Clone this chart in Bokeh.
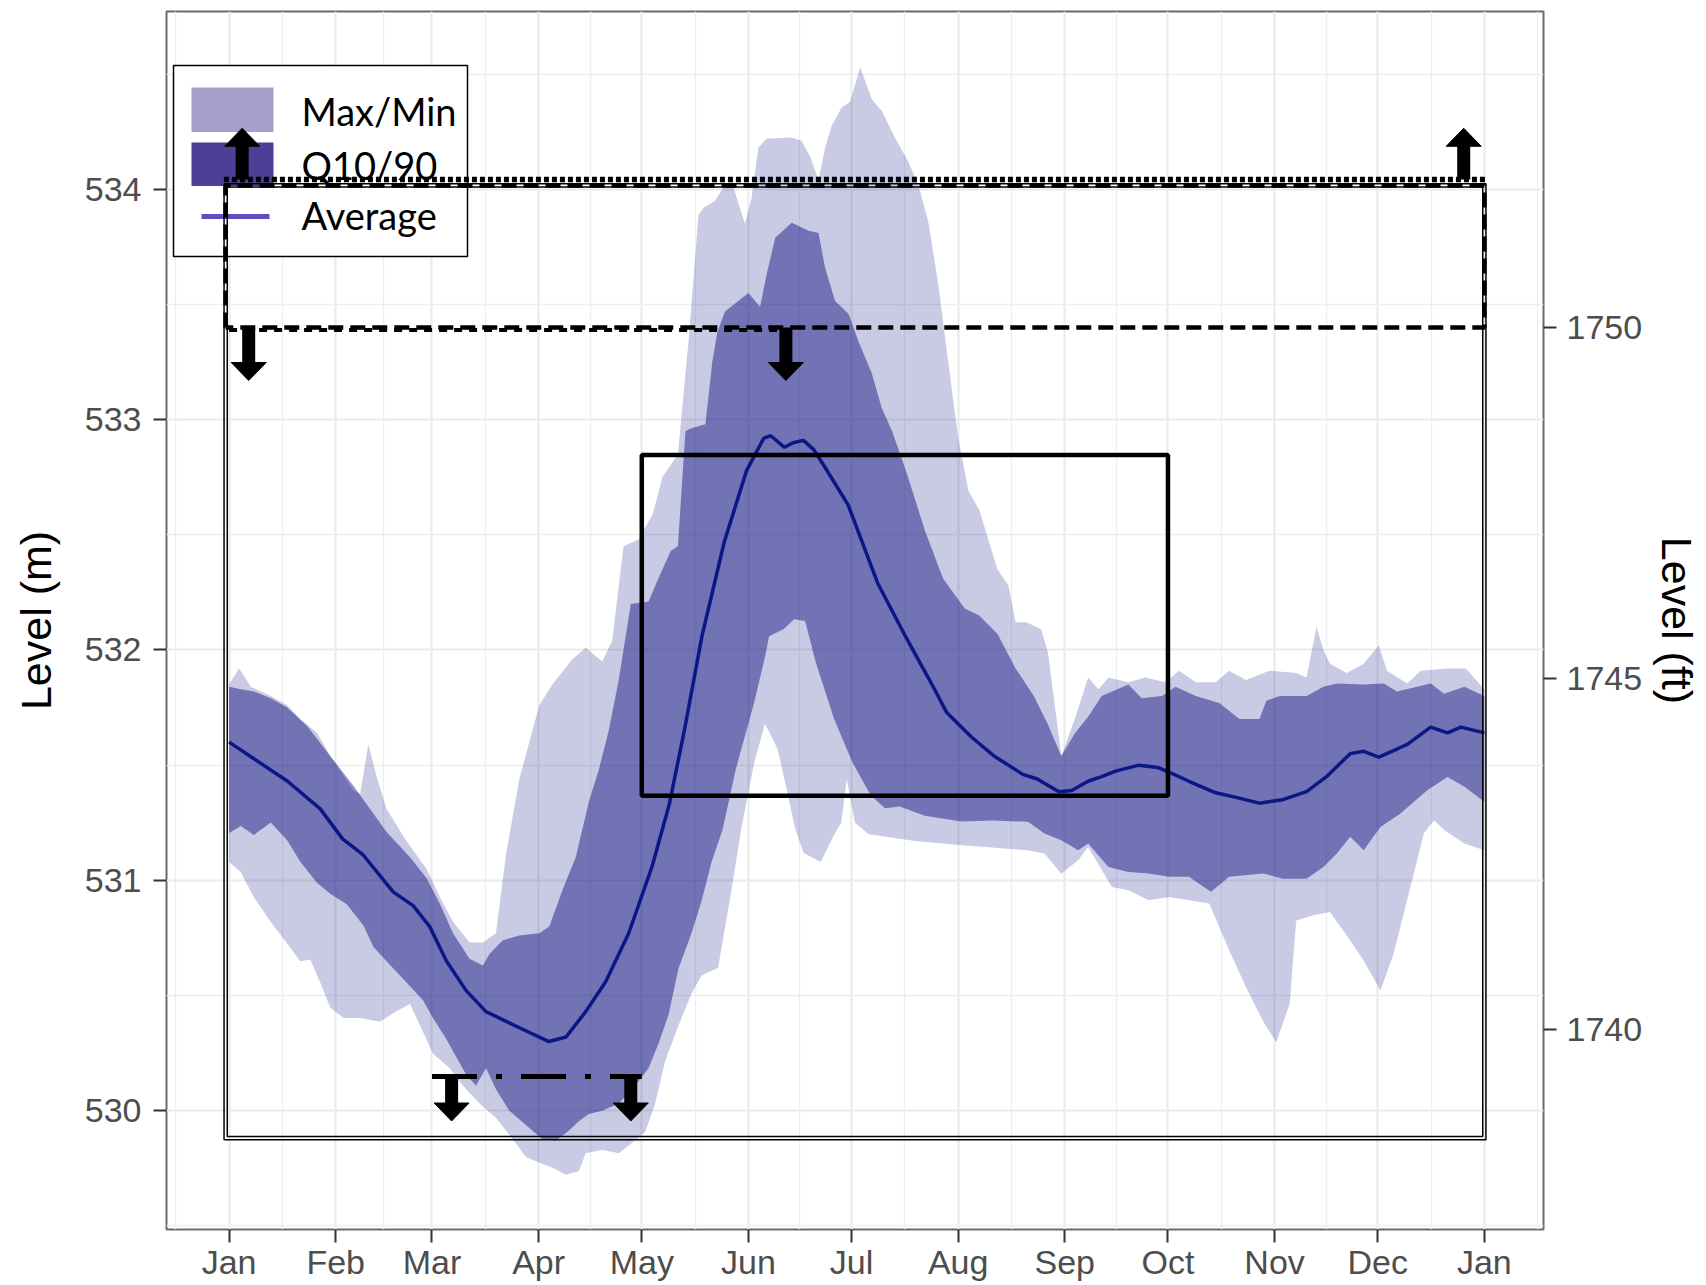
import numpy as np
from bokeh.plotting import figure
from bokeh.models import Range1d, LinearAxis, FixedTicker
from bokeh.core.properties import value
from bokeh.embed import file_html
from bokeh.resources import INLINE

# ---------------- axis categories ----------------
MONTH_DAYS = [0, 31, 59, 90, 120, 151, 181, 212, 243, 273, 304, 334, 365]
MONTH_LABELS = ["Jan", "Feb", "Mar", "Apr", "May", "Jun", "Jul", "Aug", "Sep", "Oct", "Nov", "Dec", "Jan"]
LEVEL_TICKS_M = [530, 531, 532, 533, 534]
LEVEL_MINOR_M = [529.5, 530.5, 531.5, 532.5, 533.5, 534.5]
LEVEL_TICKS_FT = [1740, 1745, 1750]
M_PER_FT = 0.3048
LEGEND_LABELS = ["Max/Min", "Q10/90", "Average"]

# ---------------- series (day of year, level in m) ----------------
avg_day = [0, 7, 17, 26.5, 33, 39, 47.7, 53.5, 58.3, 63.2, 69, 74.7, 84.4, 93, 98, 103.7, 109.5, 116.2,
           123, 128, 132.5, 137.5, 144, 150.5, 155.5, 157.5, 161.5, 164, 167, 170, 173, 180, 188.6, 197,
           204.4, 208.6, 216, 222.4, 230.8, 235, 241.3, 245, 249.8, 253.7, 258, 264.6, 270, 273.3, 279.1,
           286.9, 292.8, 299.6, 306.4, 313.3, 319.1, 326, 329.9, 334.3, 339.6, 342.6, 349.4, 354.3, 358.2, 365]
avg_level = [531.60, 531.53, 531.43, 531.31, 531.18, 531.11, 530.95, 530.89, 530.80, 530.65, 530.52, 530.43,
             530.36, 530.30, 530.32, 530.43, 530.56, 530.77, 531.06, 531.33, 531.66, 532.06, 532.47, 532.78,
             532.92, 532.93, 532.88, 532.90, 532.91, 532.87, 532.80, 532.63, 532.29, 532.05, 531.85, 531.73,
             531.62, 531.54, 531.46, 531.44, 531.385, 531.39, 531.43, 531.45, 531.475, 531.50, 531.49, 531.47,
             531.43, 531.38, 531.36, 531.335, 531.35, 531.385, 531.45, 531.55, 531.56, 531.535, 531.57,
             531.59, 531.665, 531.64, 531.665, 531.64]

q90_day = [0, 3.4, 7.2, 12.1, 16.9, 22.7, 29.4, 36.2, 40, 45.8, 52.6, 57.4, 61.2, 65.1, 69.9, 73.8, 75.7,
           79.6, 84.4, 90.2, 93.1, 97, 100.8, 104.6, 107.5, 110.4, 113.3, 116.8, 122, 124.5, 128.4, 130.5,
           132.7, 134, 138.5, 140.5, 142, 144.2, 151, 154.4, 156.3, 158.8, 163.6, 168.5, 171.4, 173.3, 176.2,
           180.1, 183, 186.9, 189.8, 192.8, 197, 202.3, 207.6, 213.9, 218.1, 223.4, 228.7, 234, 238, 242,
           246, 249.8, 253.7, 261.5, 265.4, 271.3, 275.2, 281.1, 287.9, 293.8, 299.6, 301.6, 305.5, 313.3,
           318.2, 322.1, 329.9, 335.8, 339.6, 349.4, 353.3, 359.2, 365]
q90_level = [531.84, 531.83, 531.82, 531.79, 531.75, 531.67, 531.54, 531.41, 531.33, 531.21, 531.10, 531.01,
             530.90, 530.77, 530.66, 530.63, 530.68, 530.74, 530.76, 530.77, 530.80, 530.96, 531.10, 531.34,
             531.48, 531.65, 531.87, 532.20, 532.21, 532.30, 532.43, 532.45, 532.95, 532.96, 532.98, 533.25,
             533.38, 533.47, 533.55, 533.49, 533.63, 533.79, 533.855, 533.82, 533.81, 533.66, 533.515, 533.46,
             533.34, 533.20, 533.05, 532.95, 532.77, 532.52, 532.31, 532.18, 532.15, 532.07, 531.92, 531.80,
             531.68, 531.54, 531.64, 531.71, 531.80, 531.85, 531.79, 531.80, 531.84, 531.80, 531.77, 531.70,
             531.70, 531.78, 531.80, 531.80, 531.84, 531.855, 531.85, 531.855, 531.82, 531.855, 531.81,
             531.84, 531.80]

q10_day = [0, 3.4, 7.2, 12.1, 16.9, 20.7, 25.6, 29.4, 34.2, 39.1, 42, 45.8, 51.6, 56.4, 59.3, 63.2, 66.1,
           69, 71.8, 74.7, 77.6, 81.5, 86.3, 91.1, 95, 98.9, 101.7, 104.6, 108.5, 113.3, 118.1, 122, 124.9,
           127.8, 130.7, 134.5, 137.4, 140.3, 143.5, 147.4, 152.7, 155.9, 157, 161.2, 164.3, 167.5, 170.6,
           175.9, 181.2, 186.5, 190.7, 195, 202.3, 212.9, 222, 232.3, 237.1, 242, 246.9, 249.8, 255.7, 261.5,
           267.4, 273.3, 279.1, 285.5, 290.8, 300.6, 306.4, 313.3, 318.2, 322.1, 326, 329.9, 334.8, 340.6,
           348.4, 354.3, 359.2, 365]
q10_level = [531.205, 531.236, 531.197, 531.251, 531.174, 531.081, 530.988, 530.942, 530.896, 530.803,
             530.71, 530.649, 530.556, 530.479, 530.402, 530.31, 530.232, 530.155, 530.108, 530.185, 530.093,
             530.0, 529.938, 529.876, 529.869, 529.915, 529.954, 529.985, 530.0, 530.031, 530.108, 530.185,
             530.293, 530.417, 530.618, 530.772, 530.911, 531.081, 531.22, 531.486, 531.773, 531.975, 532.06,
             532.09, 532.133, 532.126, 531.946, 531.701, 531.514, 531.37, 531.313, 531.32, 531.28, 531.255,
             531.26, 531.254, 531.203, 531.174, 531.13, 531.16, 531.058, 531.036, 531.03, 531.015, 531.015,
             530.95, 531.015, 531.03, 531.007, 531.007, 531.058, 531.116, 531.189, 531.13, 531.232, 531.29,
             531.391, 531.449, 531.406, 531.341]

max_day = [0, 2.9, 6.3, 12.1, 16.9, 20.7, 25.6, 29.4, 36.2, 38.1, 40.5, 42.9, 45.8, 51.6, 57.4, 61.2, 65.1,
           69.9, 73.8, 77.6, 80.5, 84.4, 90.2, 94, 99.8, 103.7, 108.5, 111.4, 114.7, 119, 123.2, 126, 130.5,
           133.6, 136.5, 138, 141.3, 144.2, 146.6, 150, 151.9, 153.9, 156.3, 163.6, 166.5, 169, 171.4, 173.3,
           175.2, 178.1, 180.6, 183.5, 186.9, 189.8, 193.6, 197.5, 200.4, 203.3, 206.2, 209.1, 212, 215,
           218.1, 223.4, 226.6, 228.7, 231.9, 236.1, 238.1, 242, 245.9, 249.8, 252.8, 255.7, 261.5, 266.4,
           272.3, 276.2, 281.1, 286.9, 290.8, 295.7, 302.5, 310.3, 313.3, 316.2, 318.2, 320.1, 325, 329.9,
           334.3, 336.7, 342.6, 346.5, 354.3, 359.6, 365]
max_level = [531.85, 531.92, 531.84, 531.80, 531.76, 531.70, 531.64, 531.54, 531.39, 531.375, 531.59, 531.45,
             531.31, 531.17, 531.05, 530.93, 530.82, 530.73, 530.73, 530.77, 531.11, 531.44, 531.76, 531.85,
             531.96, 532.01, 531.95, 532.04, 532.45, 532.48, 532.59, 532.75, 532.85, 533.34, 533.89, 533.92,
             533.95, 534.02, 534.01, 533.85, 533.96, 534.18, 534.22, 534.225, 534.21, 534.14, 534.04, 534.18,
             534.275, 534.355, 534.38, 534.53, 534.39, 534.34, 534.225, 534.12, 534.02, 533.86, 533.59,
             533.25, 532.92, 532.69, 532.61, 532.35, 532.28, 532.12, 532.12, 532.09, 531.99, 531.54, 531.70,
             531.88, 531.83, 531.88, 531.86, 531.88, 531.86, 531.91, 531.86, 531.86, 531.91, 531.87, 531.91,
             531.90, 531.88, 532.10, 532.00, 531.94, 531.90, 531.94, 532.02, 531.91, 531.855, 531.91, 531.92,
             531.92, 531.83]

min_day = [0, 3.4, 7.2, 12.1, 16.9, 20.7, 23.6, 26.5, 29.4, 33.3, 38.1, 43.9, 48.7, 52.6, 55.5, 59.3, 64.1,
           68, 72.8, 77.6, 82.5, 86.3, 91.1, 94, 97.9, 101.7, 103.7, 108.5, 113.3, 117.2, 121, 123.9, 126.8,
           130.7, 134.5, 137.4, 142.2, 146, 149, 152.7, 155.8, 157.5, 159.5, 162.5, 164.5, 167, 172, 176, 178,
           179.6, 182, 186, 200, 215, 232.3, 237.1, 242, 246.9, 249.8, 256.7, 261.5, 267.4, 273.3, 279.1, 285,
           290.8, 295.7, 300.6, 304.5, 308.4, 310.3, 315.2, 320.1, 326, 329.9, 334.8, 338.6, 343.5, 347.4,
           350.4, 353.3, 359.2, 365]
min_level = [531.08, 531.035, 530.927, 530.819, 530.726, 530.649, 530.656, 530.556, 530.448, 530.402,
             530.402, 530.386, 530.432, 530.463, 530.371, 530.247, 530.185, 530.108, 530.031, 529.969,
             529.876, 529.799, 529.768, 529.753, 529.722, 529.737, 529.815, 529.83, 529.815, 529.861, 529.907,
             530.031, 530.216, 530.371, 530.51, 530.587, 530.62, 530.95, 531.23, 531.51, 531.68, 531.63,
             531.57, 531.37, 531.23, 531.12, 531.08, 531.2, 531.25, 531.44, 531.25, 531.2, 531.17, 531.15,
             531.13, 531.116, 531.029, 531.087, 531.145, 530.971, 530.957, 530.913, 530.928, 530.913, 530.899,
             530.696, 530.536, 530.39, 530.297, 530.464, 530.826, 530.848, 530.862, 530.739, 530.652, 530.522,
             530.681, 530.971, 531.203, 531.261, 531.218, 531.16, 531.13]

# ---------------- operating-rule annotations (days, m) ----------------
rule_box_days = [-1.0, 365.0]          # double-lined outer envelope
rule_box_levels = [529.881, 534.017]
upper_limit_level = 534.043            # dotted line
upper_limit_days = [-1.5, 365.3]
target_level = 1750 * M_PER_FT         # dashed line (1750 ft)
target_days = [-1.0, 365.0]
target_notch_days = [0.0, 161.9]
spring_min_level = 530.148             # dash-dot line
spring_min_days = [59, 120]
summer_box_days = [120, 273]
summer_box_levels = [531.367, 532.846]
arrow_day = [3.8, 359.0, 5.7, 161.9, 64.7, 116.8]
arrow_from = [534.043, 534.043, target_level, target_level, 530.148, 530.148]
arrow_to = [534.265, 534.265, 533.17, 533.17, 529.955, 529.955]

# ---------------- layout ----------------
W, H = 1706, 1285
B_LEFT, B_RIGHT, B_TOP, B_BOTTOM = 166, 163, 11, 56
X_RANGE = (-18.2, 382.2)
Y_RANGE = (529.484, 534.772)
XPP = (X_RANGE[1] - X_RANGE[0]) / (W - B_LEFT - B_RIGHT)
YPP = (Y_RANGE[1] - Y_RANGE[0]) / (H - B_TOP - B_BOTTOM)


def px_x(px):  # screen x (canvas px) -> data x
    return X_RANGE[0] + (px - B_LEFT) * XPP


def px_y(py):  # screen y (canvas px) -> data y
    return Y_RANGE[1] - (py - B_TOP) * YPP


p = figure(width=W, height=H, x_range=Range1d(*X_RANGE), y_range=Range1d(*Y_RANGE),
           output_backend="svg", toolbar_location=None,
           min_border_left=B_LEFT, min_border_right=B_RIGHT, min_border_top=B_TOP,
           min_border_bottom=B_BOTTOM, background_fill_color="white", border_fill_color="white")
p.outline_line_color = "#6B6B6B"
p.outline_line_width = 2

p.extra_y_ranges = {"ft": Range1d(Y_RANGE[0] / M_PER_FT, Y_RANGE[1] / M_PER_FT)}
right_axis = LinearAxis(y_range_name="ft", axis_label="Level (ft)",
                        ticker=FixedTicker(ticks=LEVEL_TICKS_FT))
p.add_layout(right_axis, "right")

mids = [(a + b) / 2 for a, b in zip(MONTH_DAYS[:-1], MONTH_DAYS[1:])]
x_minor = [MONTH_DAYS[0] - (mids[0] - MONTH_DAYS[0])] + mids + [MONTH_DAYS[-1] + (MONTH_DAYS[-1] - mids[-1])]
xt = FixedTicker(ticks=MONTH_DAYS, minor_ticks=x_minor)
yt = FixedTicker(ticks=LEVEL_TICKS_M, minor_ticks=LEVEL_MINOR_M)
bottom_axis = p.below[0]
left_axis = p.left[0]
bottom_axis.ticker = xt
left_axis.ticker = yt
p.xgrid.ticker = xt
p.ygrid.ticker = yt
bottom_axis.major_label_overrides = {d: lab for d, lab in zip(MONTH_DAYS, MONTH_LABELS)}
left_axis.axis_label = "Level (m)"

for g in (p.xgrid[0], p.ygrid[0]):
    g.grid_line_color = "#EBEBEB"
    g.grid_line_width = 2.2
    g.minor_grid_line_color = "#EEEEEE"
    g.minor_grid_line_width = 1.3

for ax in (bottom_axis, left_axis, right_axis):
    ax.axis_line_color = None
    ax.major_tick_line_color = "#333333"
    ax.major_tick_line_width = 2
    ax.major_tick_out = 13
    ax.major_tick_in = 0
    ax.minor_tick_line_color = None
    ax.major_label_text_font = "Liberation Sans"
    ax.major_label_text_font_size = "34px"
    ax.major_label_text_color = "#4D4D4D"
    ax.axis_label_text_font = "Liberation Sans"
    ax.axis_label_text_font_size = "43px"
    ax.axis_label_text_font_style = "normal"
    ax.axis_label_text_color = "black"
left_axis.major_label_standoff = 12
left_axis.axis_label_standoff = 22
right_axis.major_label_standoff = 10
right_axis.axis_label_standoff = 8
bottom_axis.major_label_standoff = 0

# ---------------- data layers ----------------
BAND = "#00057A"
p.patch(x=max_day + min_day[::-1], y=max_level + min_level[::-1],
        fill_color=BAND, fill_alpha=0.21, line_color=None)
p.patch(x=q90_day + q10_day[::-1], y=q90_level + q10_level[::-1],
        fill_color=BAND, fill_alpha=0.44, line_color=None)
p.line(x=avg_day, y=avg_level, line_color="#0B1784", line_width=3.5)

# ---------------- legend box (drawn as glyphs so the rule marks overlay it) ----------------
p.quad(left=[px_x(173)], right=[px_x(467)], top=[px_y(65)], bottom=[px_y(256)],
       fill_color="white", line_color="black", line_width=1.5)
p.quad(left=[px_x(191)] * 2, right=[px_x(273)] * 2, top=[px_y(87), px_y(142)],
       bottom=[px_y(131.5), px_y(185.5)], fill_color=["#A69FCC", "#4B3F96"], line_color=None)
p.line(x=[px_x(201), px_x(269)], y=[px_y(216)] * 2, line_color="#5B50BE", line_width=5)
p.text(x=[px_x(301)] * 3, y=[px_y(110), px_y(164), px_y(214)], text=LEGEND_LABELS,
       text_font=value("Lato"), text_font_size="38px", text_color="black",
       text_baseline="middle", text_align="left")

# ---------------- rule annotations ----------------
off_x, off_y = 1.6 * XPP, 1.6 * YPP
for s in (1, -1):
    p.quad(left=[rule_box_days[0] - s * off_x], right=[rule_box_days[1] + s * off_x],
           bottom=[rule_box_levels[0] - s * off_y], top=[rule_box_levels[1] + s * off_y],
           fill_color=None, line_color="black", line_width=1.5)

# dashed target envelope
p.line(x=[target_days[0], target_days[0], target_days[1], target_days[1], target_days[0]],
       y=[target_level, rule_box_levels[1], rule_box_levels[1], target_level, target_level],
       line_color="black", line_width=4.5, line_dash="15 7")
p.line(x=target_notch_days, y=[target_level - 2.5 * YPP] * 2, line_color="black",
       line_width=4, line_dash="8 7")
# dotted upper limit
p.line(x=upper_limit_days, y=[upper_limit_level] * 2, line_color="black", line_width=5.5,
       line_dash="5 3")
# dash-dot spring minimum
p.line(x=spring_min_days, y=[spring_min_level] * 2, line_color="black", line_width=5,
       line_dash="45 19 6 19")
# summer box
p.quad(left=[summer_box_days[0]], right=[summer_box_days[1]], bottom=[summer_box_levels[0]],
       top=[summer_box_levels[1]], fill_color=None, line_color="black", line_width=4.5)

# block arrows
SHAFT_PX, HEAD_W_PX, HEAD_L_PX = 13, 35, 18
head_base, xs, ys = [], [], []
for x, a, b in zip(arrow_day, arrow_from, arrow_to):
    d = 1 if b > a else -1
    hb = b - d * HEAD_L_PX * YPP
    head_base.append(hb + d * 0.5 * YPP)
    xs.append([x - HEAD_W_PX / 2 * XPP, x + HEAD_W_PX / 2 * XPP, x])
    ys.append([hb, hb, b])
p.segment(x0=arrow_day, y0=arrow_from, x1=arrow_day, y1=head_base, line_color="black",
          line_width=SHAFT_PX, line_cap="butt")
p.patches(xs=xs, ys=ys, fill_color="black", line_color="black", line_width=1)

open("out.html", "w").write(file_html(p, INLINE))
